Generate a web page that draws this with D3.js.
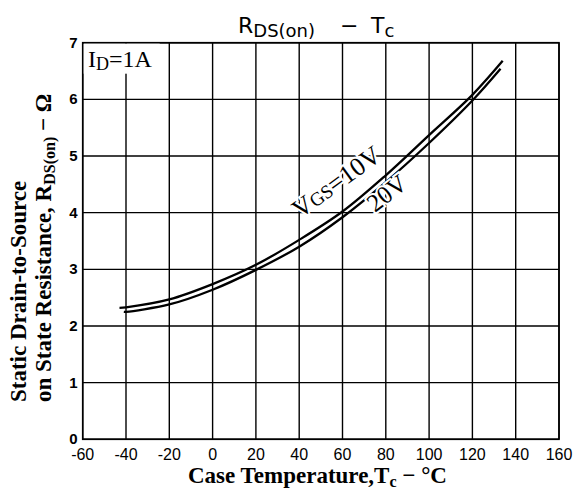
<!DOCTYPE html>
<html><head><meta charset="utf-8">
<script src="https://cdn.jsdelivr.net/npm/d3@7"></script>
<style>body{margin:0;background:#fff}svg{display:block}</style>
</head><body>
<svg id="c" width="576" height="489"></svg>
<script>
const xTicks = [-60,-40,-20,0,20,40,60,80,100,120,140,160];
const yTicks = [0,1,2,3,4,5,6,7];
const tempVgs10 = [-43,-40,-20,0,20,40,60,80,100,120,134];
const rdsVgs10  = [2.32,2.33,2.47,2.74,3.08,3.52,4.02,4.66,5.37,6.08,6.68];
const tempVgs20 = [-41,-40,-20,0,20,40,60,80,100,120,133];
const rdsVgs20  = [2.25,2.25,2.38,2.64,2.99,3.40,3.92,4.54,5.23,5.98,6.54];

const svg = d3.select("#c");
const x = d3.scaleLinear().domain([-60,160]).range([82.7,559]);
const y = d3.scaleLinear().domain([0,7]).range([439.3,42.7]);
const ink = "#000";

// grid
const g = svg.append("g");
g.selectAll("line.v").data(xTicks).join("line")
  .attr("x1",d=>x(d)).attr("x2",d=>x(d)).attr("y1",y(0)).attr("y2",y(7))
  .attr("stroke",ink).attr("stroke-width",1.4);
g.selectAll("line.h").data(yTicks).join("line")
  .attr("y1",d=>y(d)).attr("y2",d=>y(d)).attr("x1",x(-60)).attr("x2",x(160))
  .attr("stroke",ink).attr("stroke-width",1.4);
svg.append("rect").attr("x",x(-60)).attr("y",y(7)).attr("width",x(160)-x(-60)).attr("height",y(0)-y(7))
  .attr("fill","none").attr("stroke",ink).attr("stroke-width",1.6);

// ID label box
svg.append("rect").attr("x",x(-60)+1).attr("y",y(7)+1).attr("width",76).attr("height",30).attr("fill","#fff");
const idl = svg.append("text").attr("x",88).attr("y",67).attr("font-family","Liberation Serif").attr("font-size",24).attr("fill",ink);
idl.append("tspan").text("I");
idl.append("tspan").attr("font-size",18).attr("dy",3).text("D");
idl.append("tspan").attr("dy",-3).text("=1A");

// axes tick labels
svg.selectAll("text.xt").data(xTicks).join("text")
  .attr("x",d=>x(d)).attr("y",y(0)+21).attr("text-anchor","middle")
  .attr("font-family","Liberation Sans").attr("font-size",16).attr("fill",ink)
  .text(d=>d);
svg.selectAll("text.yt").data(yTicks).join("text")
  .attr("x",x(-60)-5).attr("y",d=>y(d)+5).attr("text-anchor","end")
  .attr("font-family","Liberation Sans").attr("font-weight","bold").attr("font-size",15).attr("fill",ink)
  .text(d=>d);

// curves
const line = d3.line().x(d=>x(d[0])).y(d=>y(d[1])).curve(d3.curveCatmullRom.alpha(0.5));
svg.append("path").datum(d3.zip(tempVgs10,rdsVgs10)).attr("d",line)
  .attr("fill","none").attr("stroke",ink).attr("stroke-width",2.3);
svg.append("path").datum(d3.zip(tempVgs20,rdsVgs20)).attr("d",line)
  .attr("fill","none").attr("stroke",ink).attr("stroke-width",2.3);

// curve labels
const l1 = svg.append("text").attr("transform","translate(300,219) rotate(-36)")
  .attr("font-family","Liberation Serif").attr("font-size",26).attr("fill",ink)
  .attr("stroke","#fff").attr("stroke-width",4).attr("paint-order","stroke");
l1.append("tspan").text("V");
l1.append("tspan").attr("font-size",19).text("GS");
l1.append("tspan").text("=10V");
svg.append("text").attr("transform","translate(375,213) rotate(-38)")
  .attr("font-family","Liberation Serif").attr("font-size",25).attr("fill",ink)
  .attr("stroke","#fff").attr("stroke-width",4).attr("paint-order","stroke")
  .text("20V");

// title
const t = svg.append("text").attr("x",238).attr("y",33).attr("font-family","DejaVu Sans").attr("font-size",22).attr("fill",ink);
t.append("tspan").text("R");
t.append("tspan").attr("font-size",18).attr("dy",4).text("DS(on)");
t.append("tspan").attr("x",340).attr("dy",-4).text("\u2212");
t.append("tspan").attr("x",371).text("T");
t.append("tspan").attr("font-size",18).attr("dy",4).text("c");

// x title
const xt = svg.append("text").attr("x",188).attr("y",483)
  .attr("font-family","Liberation Serif").attr("font-weight","bold").attr("font-size",23).attr("fill",ink);
xt.append("tspan").text("Case Temperature,T");
xt.append("tspan").attr("font-size",16).attr("dy",4).text("c");
xt.append("tspan").attr("dy",-4).text(" \u2212 \u00b0C");

// y title
svg.append("text").attr("transform","translate(26,402) rotate(-90)")
  .attr("font-family","Liberation Serif").attr("font-weight","bold").attr("font-size",23).attr("fill",ink)
  .text("Static Drain-to-Source");
const yt2 = svg.append("text").attr("transform","translate(51,402) rotate(-90)")
  .attr("font-family","Liberation Serif").attr("font-weight","bold").attr("font-size",23).attr("fill",ink);
yt2.append("tspan").text("on State Resistance, R");
yt2.append("tspan").attr("font-size",16).attr("dy",4).text("DS(on)");
yt2.append("tspan").attr("dy",-4).text(" \u2212 \u03a9");
</script>
</body></html>
